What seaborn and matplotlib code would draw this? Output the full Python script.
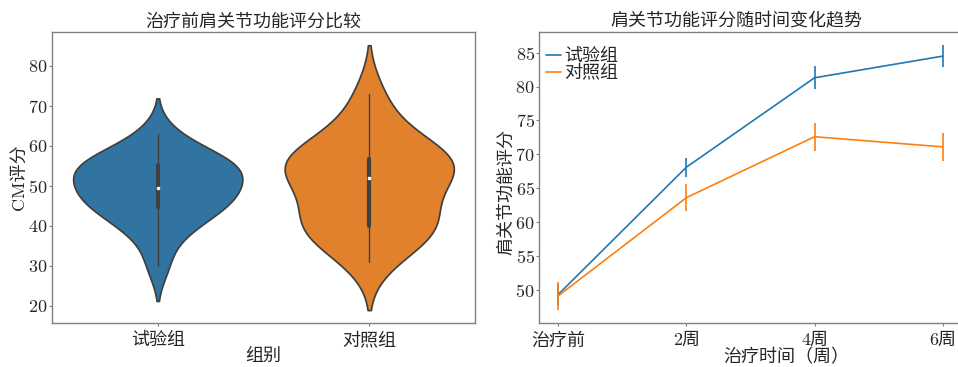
import matplotlib
matplotlib.use("Agg")
import matplotlib.pyplot as plt
import seaborn as sns
import pandas as pd
import numpy as np

# ---- data ----
group_names = ["试验组", "对照组"]
# baseline shoulder-function scores (individual patients)
scores_exp = [30, 37, 40, 42, 44, 45, 46, 47, 48.5, 49,
              50, 52, 53, 54, 55, 55.5, 56, 57, 59, 63]
scores_ctl = [31, 35, 38, 39, 40, 40, 43, 46, 48, 51,
              53, 54, 55, 56, 56.5, 57, 59, 62, 66, 73]

time_labels = ["治疗前", "2周", "4周", "6周"]
mean_exp = [49.3, 68.1, 81.3, 84.5]
err_exp = [1.5, 1.4, 1.7, 1.6]
mean_ctl = [49.1, 63.6, 72.6, 71.1]
err_ctl = [2.1, 2.0, 2.05, 2.05]

# ---- style ----
sns.set_style("white")
plt.rcParams["font.family"] = ["cmr10", "Noto Sans CJK SC", "DejaVu Sans"]
plt.rcParams["axes.formatter.use_mathtext"] = True
plt.rcParams["axes.unicode_minus"] = False
FS = 13
spine_c = "#808080"

colors = sns.color_palette("tab10", 2)

fig = plt.figure(figsize=(9.58, 3.67), dpi=100)
ax1 = fig.add_axes([0.0543, 0.119, 0.4415, 0.7937])
ax2 = fig.add_axes([0.5626, 0.119, 0.4415, 0.7937])

# ---- left: violin ----
df = pd.DataFrame({
    "组别": [group_names[0]] * len(scores_exp) + [group_names[1]] * len(scores_ctl),
    "CM评分": scores_exp + scores_ctl,
})
sns.violinplot(data=df, x="组别", y="CM评分", hue="组别", palette=colors,
               legend=False, ax=ax1,
               inner_kws=dict(box_width=3, whis_width=1.0, marker="o", markersize=2))
ax1.set_title("治疗前肩关节功能评分比较", fontsize=FS, x=0.475, pad=4)
ax1.set_xlabel("组别", fontsize=FS)
ax1.xaxis.set_label_coords(0.5, -0.085)
ax1.set_ylabel("CM评分", fontsize=FS)
ax1.yaxis.set_label_coords(-0.059, 0.5)
ax1.set_yticks([20, 30, 40, 50, 60, 70, 80])

# ---- right: trend ----
x = np.arange(len(time_labels))
sns.lineplot(x=x, y=mean_exp, ax=ax2, color=colors[0], lw=1.2, label=group_names[0])
ax2.errorbar(x, mean_exp, yerr=err_exp, fmt="none", ecolor=colors[0], elinewidth=1.2)
sns.lineplot(x=x, y=mean_ctl, ax=ax2, color=colors[1], lw=1.2, label=group_names[1])
ax2.errorbar(x, mean_ctl, yerr=err_ctl, fmt="none", ecolor=colors[1], elinewidth=1.2)
ax2.set_xticks(x)
ax2.set_xticklabels(time_labels)
ax2.set_yticks([50, 55, 60, 65, 70, 75, 80, 85])
ax2.set_title("肩关节功能评分随时间变化趋势", fontsize=FS, x=0.466, pad=4)
ax2.set_xlabel("治疗时间（周）", fontsize=FS)
ax2.xaxis.set_label_coords(0.585, -0.085)
ax2.set_ylabel("肩关节功能评分", fontsize=FS)
ax2.yaxis.set_label_coords(-0.058, 0.45)
ax2.legend(loc="upper left", bbox_to_anchor=(0.0, 0.969), frameon=False,
           fontsize=FS, handlelength=0.8, handletextpad=0.2, labelspacing=0.0,
           borderaxespad=0.2, borderpad=0.2)

for ax in (ax1, ax2):
    for s in ax.spines.values():
        s.set_color(spine_c)
        s.set_linewidth(1.0)
    ax.tick_params(axis="both", labelsize=FS, length=2.5, width=0.8,
                   color=spine_c, direction="out", bottom=True, left=True)
    ax.tick_params(axis="x", pad=4)
    ax.tick_params(axis="y", pad=0.5)

fig.savefig("out.png", dpi=100)
